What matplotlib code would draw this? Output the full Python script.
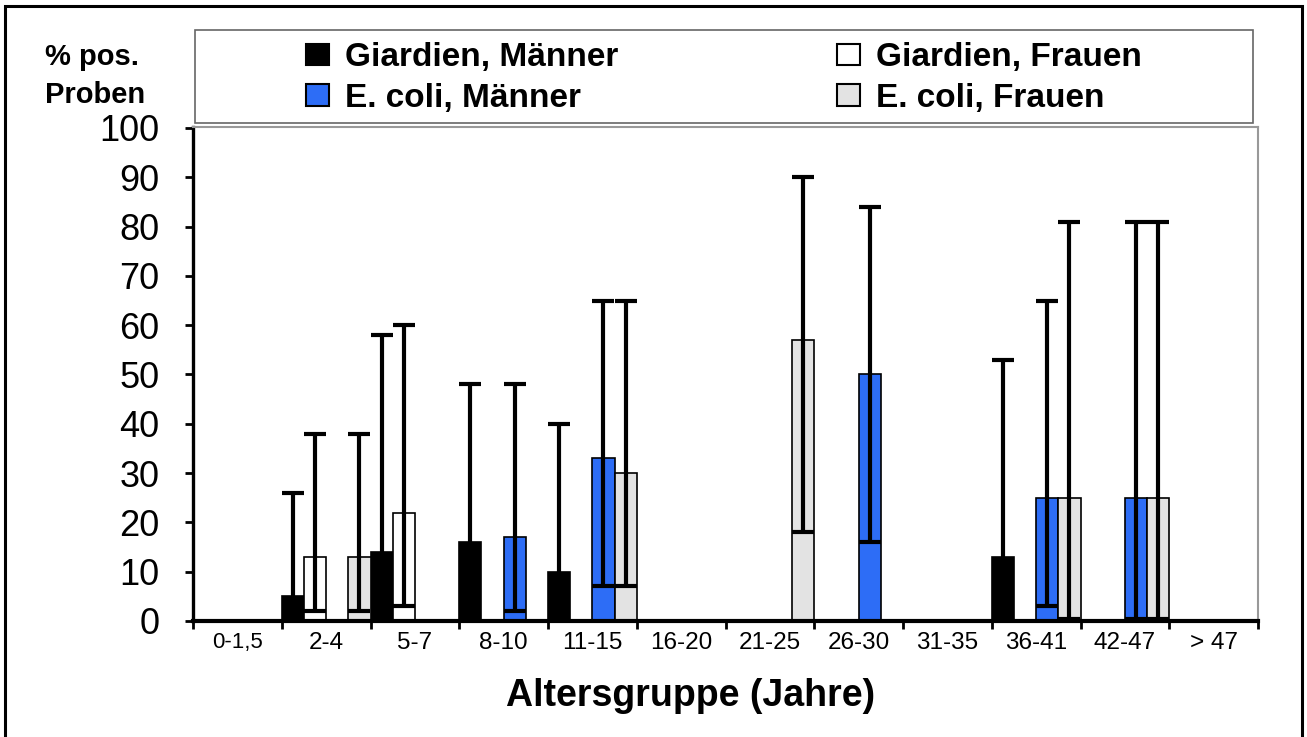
import numpy as np
import matplotlib
matplotlib.use('Agg')
import matplotlib.pyplot as plt
from matplotlib.patches import Patch, Rectangle

plt.rcParams['font.family'] = ['Liberation Sans', 'DejaVu Sans']

# age groups
groups = ['0-1,5', '2-4', '5-7', '8-10', '11-15', '16-20', '21-25',
          '26-30', '31-35', '36-41', '42-47', '> 47']

# % positive samples, NaN = no bar
giardia_m = [np.nan, 5, 14, 16, 10, np.nan, np.nan, np.nan, np.nan, 13, np.nan, np.nan]
giardia_f = [np.nan, 13, 22, np.nan, np.nan, np.nan, np.nan, np.nan, np.nan, np.nan, np.nan, np.nan]
ecoli_m = [np.nan, np.nan, np.nan, 17, 33, np.nan, np.nan, 50, np.nan, 25, 25, np.nan]
ecoli_f = [np.nan, 13, np.nan, np.nan, 30, np.nan, 57, np.nan, np.nan, 25, 25, np.nan]

# confidence limits (lower, upper)
giardia_m_lo = [np.nan, 1, 1, 1, 1, np.nan, np.nan, np.nan, np.nan, 1, np.nan, np.nan]
giardia_m_hi = [np.nan, 26, 58, 48, 40, np.nan, np.nan, np.nan, np.nan, 53, np.nan, np.nan]
giardia_f_lo = [np.nan, 2, 3, np.nan, np.nan, np.nan, np.nan, np.nan, np.nan, np.nan, np.nan, np.nan]
giardia_f_hi = [np.nan, 38, 60, np.nan, np.nan, np.nan, np.nan, np.nan, np.nan, np.nan, np.nan, np.nan]
ecoli_m_lo = [np.nan, np.nan, np.nan, 2, 7, np.nan, np.nan, 16, np.nan, 3, 0.5, np.nan]
ecoli_m_hi = [np.nan, np.nan, np.nan, 48, 65, np.nan, np.nan, 84, np.nan, 65, 81, np.nan]
ecoli_f_lo = [np.nan, 2, np.nan, np.nan, 7, np.nan, 18, np.nan, np.nan, 0.5, 0.5, np.nan]
ecoli_f_hi = [np.nan, 38, np.nan, np.nan, 65, np.nan, 90, np.nan, np.nan, 81, 81, np.nan]

series = [
    ('Giardien, Männer', giardia_m, giardia_m_lo, giardia_m_hi, 'black'),
    ('Giardien, Frauen', giardia_f, giardia_f_lo, giardia_f_hi, 'white'),
    ('E. coli, Männer', ecoli_m, ecoli_m_lo, ecoli_m_hi, '#2d6df6'),
    ('E. coli, Frauen', ecoli_f, ecoli_f_lo, ecoli_f_hi, '#e3e3e3'),
]

fig = plt.figure(figsize=(13.07, 7.37), dpi=100)
ax = fig.add_axes([193 / 1307, 116 / 737, 1065 / 1307, 494 / 737])

bw = 0.25
x0 = np.arange(len(groups))
for k, (name, vals, lo, hi, col) in enumerate(series):
    vals = np.array(vals, dtype=float)
    lo = np.array(lo, dtype=float)
    hi = np.array(hi, dtype=float)
    xs = x0 + (k + 0.5) * bw
    m = ~np.isnan(vals)
    ax.bar(xs[m], vals[m], width=bw, color=col, edgecolor='black', linewidth=1.2, zorder=2)
    yerr = np.vstack([vals[m] - lo[m], hi[m] - vals[m]])
    ax.errorbar(xs[m], vals[m], yerr=yerr, fmt='none', ecolor='black',
                elinewidth=3, capsize=8, capthick=3, zorder=3)

ax.set_xlim(0, len(groups))
ax.set_ylim(0, 100.2)
ax.set_yticks(range(0, 101, 10))
ax.tick_params(axis='y', labelsize=26, direction='out', length=6, width=2, pad=18)

ax.set_xticks(range(len(groups) + 1))
ax.set_xticklabels([])
ax.set_xticks(x0 + 0.5, minor=True)
ax.set_xticklabels(groups, minor=True)
ax.tick_params(axis='x', which='major', direction='out', length=6, width=2)
ax.tick_params(axis='x', which='minor', length=0, labelsize=17.5, pad=8)
ax.get_xticklabels(minor=True)[0].set_fontsize(16)

ax.spines['left'].set_linewidth(2.4)
ax.spines['bottom'].set_linewidth(3)
ax.spines['top'].set_color('#999999')
ax.spines['right'].set_color('#999999')
ax.spines['top'].set_linewidth(1.5)
ax.spines['right'].set_linewidth(1.5)
ax.spines['bottom'].set_zorder(4)

# legend box
fig.add_artist(Rectangle((195 / 1307, (737 - 123) / 737), (1253 - 195) / 1307, 93 / 737,
                         transform=fig.transFigure, fill=False, edgecolor='#666666', linewidth=1.2))
handles = [Patch(facecolor=s[4], edgecolor='black', linewidth=1.5, label=s[0]) for s in series]
order = [0, 2, 1, 3]
fig.legend([handles[i] for i in order], [series[i][0] for i in order],
           loc='center left', bbox_to_anchor=(306 / 1307, (737 - 78) / 737),
           ncol=2, frameon=False, borderpad=0, borderaxespad=0,
           handlelength=0.68, handleheight=0.6,
           handletextpad=0.5, columnspacing=6.55, labelspacing=0.28,
           prop={'size': 24, 'weight': 'bold'})

fig.text(45 / 1307, (737 - 76) / 737, '% pos.\nProben', ha='left', va='center',
         fontsize=21, fontweight='bold', linespacing=1.45)
fig.text(691 / 1307, (737 - 696) / 737, 'Altersgruppe (Jahre)', ha='center', va='center',
         fontsize=27, fontweight='bold')

# outer frame
fig.add_artist(Rectangle((5 / 1307, -0.05), 1297 / 1307, 0.05 + (737 - 6) / 737,
                         transform=fig.transFigure, fill=False, edgecolor='black', linewidth=2.2))

fig.savefig('out.png', dpi=100)
